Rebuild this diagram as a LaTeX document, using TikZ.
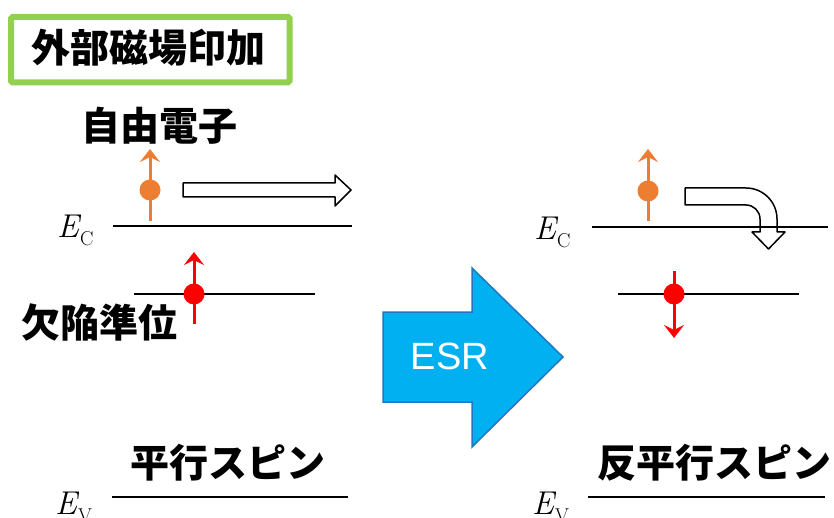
\documentclass[tikz,border=0pt]{standalone}
\usepackage{fontspec}
\newfontfamily\jp{Noto Sans CJK JP}
\newfontfamily\esrfont{Liberation Sans}
\newfontfamily\lmfont{Latin Modern Roman}
\usetikzlibrary{arrows.meta}
\definecolor{boxgreen}{HTML}{92D050}
\definecolor{eorange}{HTML}{ED7D31}
\definecolor{ered}{HTML}{FF0000}
\definecolor{esrfill}{HTML}{00B0F0}
\definecolor{esrline}{HTML}{1F78C0}
\newcommand{\enlab}[1]{{\lmfont\fontsize{33}{36}\selectfont\itshape E}\kern1pt\raisebox{-8pt}{\lmfont\fontsize{20}{22}\selectfont #1}}
\tikzset{
  lvl/.style={line width=2pt, black},
  jpl/.style={font=\jp\bfseries\fontsize{39}{44}\selectfont, inner sep=0pt},
  elec/.style={circle, inner sep=0pt, minimum size=21pt},
  spin/.style={line width=3pt, -{Stealth[length=13pt,width=20pt,inset=5pt]}},
  elab/.style={inner sep=0pt, anchor=base west},
  blockarrow/.style={fill=white, draw=black, line width=1.5pt, line join=round},
}
\begin{document}
\begin{tikzpicture}[x=1pt, y=-1pt]
\useasboundingbox (0,0) rectangle (834,518);

% title box
\node[draw=boxgreen, line width=6pt, rounded corners=1.5pt, minimum width=278.5pt, minimum height=65.5pt, inner sep=0pt] (box) at (150.25,49.75) {};
\node[jpl] (title) at (148,48) {外部磁場印加};

% labels
\node[jpl] (free) at (159,126) {自由電子};
\node[jpl] (defect) at (99,322) {欠陥準位};
\node[jpl] (par) at (228,463) {平行スピン};
\node[jpl] (anti) at (714,463) {反平行スピン};

% energy level labels
\node[elab] (ecL) at (57,238) {\enlab{C}};
\node[elab] (evL) at (55,514) {\enlab{V}};
\node[elab] (ecR) at (534,240) {\enlab{C}};
\node[elab] (evR) at (532,514) {\enlab{V}};

% level lines coordinates
\coordinate (ecL1) at (113,226); \coordinate (ecL2) at (352,226);
\coordinate (dL1) at (134,294);  \coordinate (dL2) at (315,294);
\coordinate (evL1) at (112,497); \coordinate (evL2) at (348,497);
\coordinate (ecR1) at (592,227); \coordinate (ecR2) at (828,227);
\coordinate (dR1) at (618,294);  \coordinate (dR2) at (799,294);
\coordinate (evR1) at (588,497); \coordinate (evR2) at (825,497);

% left straight block arrow
\draw[blockarrow] (183,183) -- (335,183) -- (335,175) -- (351,190) -- (335,206) -- (335,197) -- (183,197) -- cycle;

% right bent block arrow
\draw[blockarrow] (685,188) -- (746,188) arc[start angle=270, end angle=360, radius=31] -- (777,232) -- (785,232) -- (768.5,249) -- (752,232) -- (760,232) -- (760,219) arc[start angle=0, end angle=-90, radius=14] -- (685,205) -- cycle;

% level lines
\draw[lvl] (ecL1) -- (ecL2);
\draw[lvl] (dL1) -- (dL2);
\draw[lvl] (evL1) -- (evL2);
\draw[lvl] (ecR1) -- (ecR2);
\draw[lvl] (dR1) -- (dR2);
\draw[lvl] (evR1) -- (evR2);

% electrons and spins
\coordinate (s1a) at (150,221); \coordinate (s1b) at (150,149);
\coordinate (s2a) at (194,324); \coordinate (s2b) at (194,252);
\coordinate (s3a) at (648,221); \coordinate (s3b) at (648,149);
\coordinate (s4a) at (674,271); \coordinate (s4b) at (674,338);
\draw[spin, eorange] (s1a) -- (s1b);
\draw[spin, ered] (s2a) -- (s2b);
\draw[spin, eorange] (s3a) -- (s3b);
\draw[spin, ered] (s4a) -- (s4b);
\node[elec, fill=eorange] (e1) at (150,190) {};
\node[elec, fill=ered] (e2) at (194,294) {};
\node[elec, fill=eorange] (e3) at (648,191) {};
\node[elec, fill=ered] (e4) at (674,294) {};

% ESR arrow
\draw[fill=esrfill, draw=esrline, line width=1.5pt, line join=miter]
  (383,312) -- (472,312) -- (472,268) -- (563,357) -- (472,447) -- (472,402) -- (383,402) -- cycle;
\node[font=\esrfont\fontsize{38}{42}\selectfont, text=white, inner sep=0pt] (esr) at (450,356) {ESR};
\end{tikzpicture}
\end{document}
